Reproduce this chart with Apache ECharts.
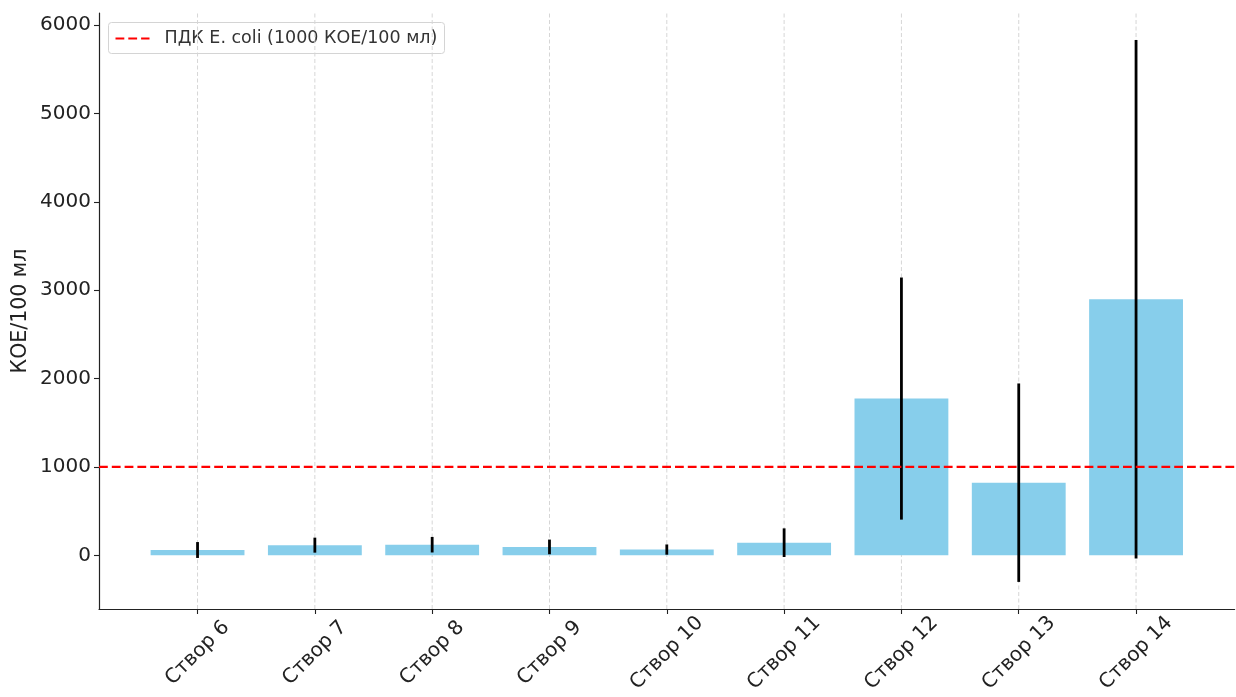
<!DOCTYPE html>
<html>
<head>
<meta charset="utf-8">
<title>E. coli по створам</title>
<script src="https://cdn.jsdelivr.net/npm/echarts@6/dist/echarts.min.js"></script>
<style>
  html, body { margin: 0; padding: 0; background: #fff; }
  #chart { width: 1236px; height: 697px; }
</style>
</head>
<body>
<div id="chart"></div>
<script>
// Sampling sites along the river
const categories = ['Створ 6', 'Створ 7', 'Створ 8', 'Створ 9', 'Створ 10', 'Створ 11', 'Створ 12', 'Створ 13', 'Створ 14'];
// Mean E. coli count per site, CFU/100 ml
const means = [60, 115, 120, 95, 65, 143, 1774, 822, 2897];
// Standard deviation per site (error bar half-length)
const errors = [90, 85, 88, 83, 58, 162, 1370, 1123, 2934];
// Permissible limit
const limitValue = 1000;
const limitLabel = 'ПДК E. coli (1000 КОЕ/100 мл)';
// Y tick labels
const yTicks = [0, 1000, 2000, 3000, 4000, 5000, 6000];
const yAxisTitle = 'КОЕ/100 мл';

const FONT = 'DejaVu Sans';
const BAR_WIDTH = 0.8;
const LIMIT_DASH = [8.8, 4];

// Axis extents with 5% padding around the data, bars span ±0.4 around each index
const idx = categories.map((_, i) => i);
const lo = Math.min(0, ...means.map((m, i) => m - errors[i]));
const hi = Math.max(...means.map((m, i) => m + errors[i]));
const yPad = 0.05 * (hi - lo);
const yMin = lo - yPad, yMax = hi + yPad;
const xLo = -BAR_WIDTH / 2, xHi = categories.length - 1 + BAR_WIDTH / 2;
const xPad = 0.05 * (xHi - xLo);
const xMin = xLo - xPad, xMax = xHi + xPad;

const chart = echarts.init(document.getElementById('chart'), null, { renderer: 'canvas' });

const option = {
  animation: false,
  backgroundColor: '#ffffff',
  textStyle: { fontFamily: FONT },
  grid: { left: 99, right: 1.4, top: 13, bottom: 88, containLabel: false, outerBoundsMode: 'none' },
  xAxis: {
    type: 'value',
    min: xMin,
    max: xMax,
    axisLine: { show: true, onZero: false, lineStyle: { color: '#222', width: 1.2 } },
    axisTick: { show: true, customValues: idx, length: 5, lineStyle: { color: '#222', width: 1.1 } },
    axisLabel: {
      customValues: idx,
      formatter: v => categories[Math.round(v)],
      rotate: 45,
      align: 'center',
      verticalAlign: 'middle',
      margin: 44,
      fontSize: 20,
      color: '#222',
      fontFamily: FONT
    },
    splitLine: { show: false }
  },
  yAxis: {
    type: 'value',
    min: yMin,
    max: yMax,
    name: yAxisTitle,
    nameLocation: 'middle',
    nameRotate: 90,
    nameGap: 68,
    nameMoveOverlap: false,
    nameTextStyle: { fontSize: 20.5, color: '#222', fontFamily: FONT },
    axisLine: { show: true, onZero: false, lineStyle: { color: '#222', width: 1.2 } },
    axisTick: { show: true, customValues: yTicks, length: 5, lineStyle: { color: '#222', width: 1.1 } },
    axisLabel: {
      customValues: yTicks,
      formatter: v => String(Math.round(v)),
      fontSize: 20,
      color: '#222',
      margin: 8,
      fontFamily: FONT
    },
    splitLine: { show: false }
  },
  series: [
    {
      // vertical dashed grid lines at each site
      type: 'custom',
      z: 1,
      silent: true,
      data: idx.map(i => [i]),
      renderItem: (params, api) => {
        const i = api.value(0);
        const a = api.coord([i, yMin]);
        const b = api.coord([i, yMax]);
        return {
          type: 'line',
          shape: { x1: a[0], y1: a[1], x2: b[0], y2: b[1] },
          style: { stroke: '#d6d6d6', lineWidth: 1, lineDash: [4, 2.5] }
        };
      }
    },
    {
      // bars: mean value per site
      type: 'custom',
      z: 2,
      data: means.map((m, i) => [i, m]),
      renderItem: (params, api) => {
        const i = api.value(0);
        const v = api.value(1);
        const p0 = api.coord([i - BAR_WIDTH / 2, 0]);
        const p1 = api.coord([i + BAR_WIDTH / 2, v]);
        return {
          type: 'rect',
          shape: { x: p0[0], y: Math.min(p0[1], p1[1]), width: p1[0] - p0[0], height: Math.abs(p0[1] - p1[1]) },
          style: { fill: '#87CEEB' }
        };
      }
    },
    {
      // error bars: mean ± standard deviation
      type: 'custom',
      z: 3,
      data: means.map((m, i) => [i, m, errors[i]]),
      renderItem: (params, api) => {
        const i = api.value(0);
        const m = api.value(1);
        const e = api.value(2);
        const a = api.coord([i, m - e]);
        const b = api.coord([i, m + e]);
        return {
          type: 'line',
          shape: { x1: a[0], y1: a[1], x2: b[0], y2: b[1] },
          style: { stroke: '#000', lineWidth: 2.8 }
        };
      }
    },
    {
      // permissible limit line
      type: 'line',
      name: limitLabel,
      z: 4,
      symbol: 'none',
      data: [[xMin, limitValue], [xMax, limitValue]],
      lineStyle: { color: '#ff0000', width: 2.2, type: LIMIT_DASH }
    }
  ],
  graphic: [
    {
      type: 'group',
      left: 108,
      top: 22,
      z: 100,
      children: [
        {
          type: 'rect',
          shape: { x: 0, y: 0, width: 336, height: 31, r: 3 },
          style: { fill: 'rgba(255,255,255,0.85)', stroke: '#d4d4d4', lineWidth: 1 }
        },
        {
          type: 'line',
          shape: { x1: 7, y1: 16, x2: 41, y2: 16 },
          style: { stroke: '#ff0000', lineWidth: 2.2, lineDash: LIMIT_DASH }
        },
        {
          type: 'text',
          x: 56,
          y: 16,
          style: {
            text: limitLabel,
            fontSize: 17.5,
            fontFamily: FONT,
            fill: '#333',
            verticalAlign: 'middle',
            align: 'left'
          }
        }
      ]
    }
  ]
};

chart.setOption(option);
</script>
</body>
</html>
